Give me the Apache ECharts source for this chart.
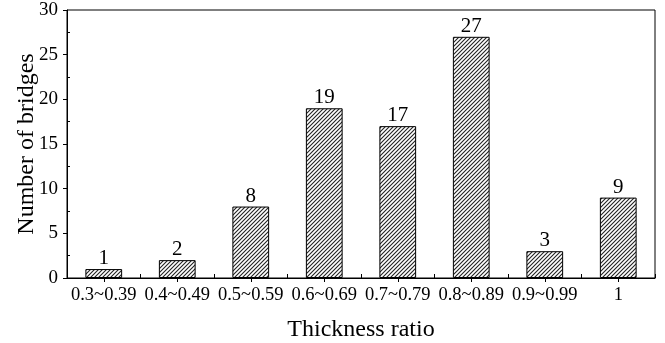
<!DOCTYPE html>
<html>
<head>
<meta charset="utf-8">
<script src="https://cdn.jsdelivr.net/npm/echarts@6/dist/echarts.min.js"></script>
<style>html,body{margin:0;padding:0;background:#fff;}#c{width:665px;height:343px;}</style>
</head>
<body>
<div id="c"></div>
<script>
var categories = ['0.3~0.39', '0.4~0.49', '0.5~0.59', '0.6~0.69', '0.7~0.79', '0.8~0.89', '0.9~0.99', '1'];
var bridgeCounts = [1, 2, 8, 19, 17, 27, 3, 9];
var yTicks = [0, 5, 10, 15, 20, 25, 30];

var pat = document.createElement('canvas');
pat.width = 4; pat.height = 4;
var ctx = pat.getContext('2d');
ctx.fillStyle = '#fff';
ctx.fillRect(0, 0, 4, 4);
ctx.strokeStyle = '#222';
ctx.lineWidth = 1.1;
ctx.beginPath();
ctx.moveTo(0, 4); ctx.lineTo(4, 0);
ctx.moveTo(-1, 1); ctx.lineTo(1, -1);
ctx.moveTo(3, 5); ctx.lineTo(5, 3);
ctx.stroke();

var font = 'Liberation Serif';
var chart = echarts.init(document.getElementById('c'));
chart.setOption({
  animation: false,
  backgroundColor: '#fff',
  grid: { left: 67, right: 10, top: 10, bottom: 65, outerBoundsMode: 'none', containLabel: false, show: true, borderColor: '#000', borderWidth: 1, backgroundColor: 'transparent' },
  xAxis: [{
    type: 'category',
    data: categories,
    name: 'Thickness ratio',
    nameLocation: 'middle',
    nameGap: 40,
    nameMoveOverlap: false,
    nameTextStyle: { fontFamily: font, fontSize: 24, color: '#000' },
    axisLine: { lineStyle: { color: '#000', width: 1 } },
    axisTick: { show: true, alignWithLabel: true, length: 4, lineStyle: { color: '#000' } },
    axisLabel: { fontFamily: font, fontSize: 18.5, color: '#000', margin: 8, interval: 0 }
  }, {
    type: 'category',
    data: categories,
    position: 'bottom',
    axisLine: { show: false },
    axisTick: { show: true, inside: true, alignWithLabel: false, length: 4, lineStyle: { color: '#000' } },
    axisLabel: { show: false }
  }],
  yAxis: [{
    type: 'value',
    min: yTicks[0],
    max: yTicks[yTicks.length - 1],
    interval: 5,
    name: 'Number of bridges',
    nameLocation: 'middle',
    nameGap: 28,
    nameMoveOverlap: false,
    nameTextStyle: { fontFamily: font, fontSize: 24, color: '#000' },
    axisLine: { show: true, lineStyle: { color: '#000', width: 1 } },
    axisTick: { show: true, length: 4, lineStyle: { color: '#000' } },
    axisLabel: { fontFamily: font, fontSize: 19, color: '#000', margin: 9 },
    splitLine: { show: false }
  }, {
    type: 'value',
    position: 'left',
    min: yTicks[0],
    max: yTicks[yTicks.length - 1],
    interval: 5,
    axisLine: { show: false },
    axisTick: { show: false, inside: true },
    minorTick: { show: true, splitNumber: 2, length: 3, lineStyle: { color: '#000' } },
    axisLabel: { show: false },
    splitLine: { show: false }
  }],
  series: [{
    type: 'bar',
    data: bridgeCounts,
    barWidth: '50%',
    itemStyle: { color: { image: pat, repeat: 'repeat' }, borderColor: '#000', borderWidth: 1 },
    label: { show: true, position: 'top', fontFamily: font, fontSize: 21, color: '#000', distance: 0 }
  }]
});
</script>
</body>
</html>
